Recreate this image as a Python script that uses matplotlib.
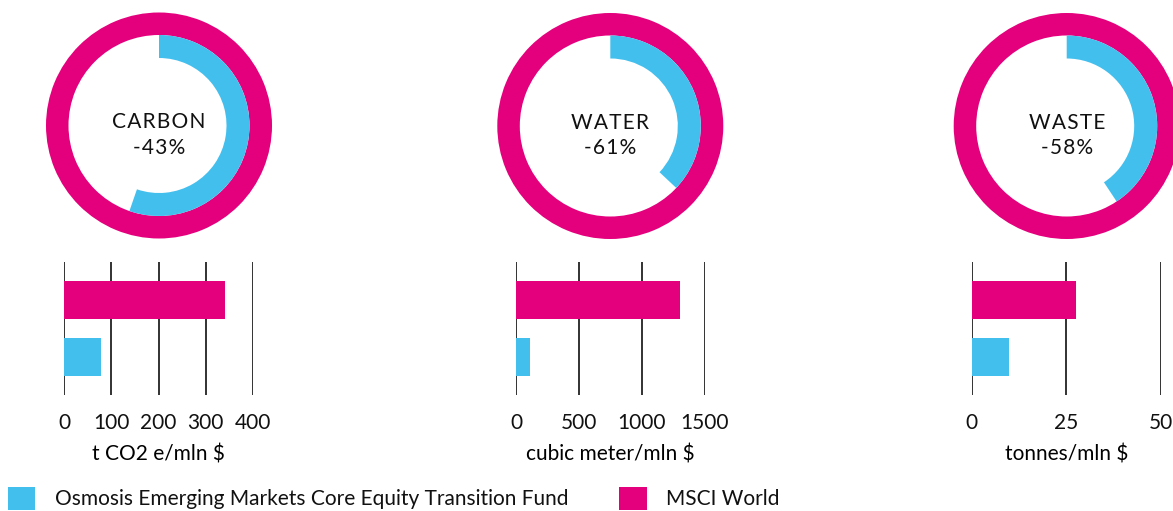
import matplotlib
matplotlib.use("Agg")
import matplotlib.pyplot as plt
from matplotlib.patches import Patch

plt.rcParams['font.family'] = ['Lato', 'DejaVu Sans']
plt.rcParams['text.color'] = '#111111'

# data
metrics = ["CARBON", "WATER", "WASTE"]
reduction = ["-43%", "-61%", "-58%"]
arc_share = [0.553, 0.37, 0.407]          # blue arc, share of full circle
units = ["t CO2 e/mln $", "cubic meter/mln $", "tonnes/mln $"]
fund = [78, 110, 9.9]
msci = [340, 1300, 27.6]
ticks = [[0, 100, 200, 300, 400], [0, 500, 1000, 1500], [0, 25, 50]]
series = ["Osmosis Emerging Markets Core Equity Transition Fund", "MSCI World"]

BLUE = '#43BFEE'
MAGENTA = '#E4007C'

W, H = 1173, 511
fig = plt.figure(figsize=(W / 100, H / 100), dpi=100)


def box(x0, y0, x1, y1):
    # pixel box (top-left origin) -> figure fraction
    return [x0 / W, 1 - y1 / H, (x1 - x0) / W, (y1 - y0) / H]


centers = [(159, 125.5), (610.3, 126), (1066.7, 126)]
bar_left = [64, 516, 971.7]
bar_w = 189

for i in range(3):
    cx, cy = centers[i]
    # donut
    ax = fig.add_axes(box(cx - 120, cy - 120, cx + 120, cy + 120))
    ax.pie([1], radius=113, colors=[MAGENTA],
           wedgeprops=dict(width=22.5, linewidth=0))
    ax.pie([arc_share[i], 1 - arc_share[i]], radius=90.5, startangle=90,
           counterclock=False, colors=[BLUE, 'none'],
           wedgeprops=dict(width=23, linewidth=0))
    ax.set_xlim(-120, 120)
    ax.set_ylim(-120, 120)
    ax.set_aspect('equal')
    ax.axis('off')
    ax.text(0, 3, '\u200a'.join(metrics[i]), ha='center', va='center',
            fontsize=15)
    ax.text(0, -22.5, '\u200a'.join(reduction[i]), ha='center', va='center',
            fontsize=15)

    # bars
    bx = fig.add_axes(box(bar_left[i], 262, bar_left[i] + bar_w, 395))
    bx.barh([0, 1], [fund[i], msci[i]], height=0.667,
            color=[BLUE, MAGENTA], linewidth=0)
    bx.set_ylim(-0.667, 1.667)
    bx.set_xlim(0, ticks[i][-1])
    bx.set_xticks(ticks[i])
    bx.set_yticks([])
    bx.set_axisbelow(True)
    bx.grid(axis='x', color='#222222', linewidth=1.3)
    for s in bx.spines.values():
        s.set_visible(False)
    bx.tick_params(axis='x', length=0, pad=13, labelsize=15,
                   labelcolor='#111111')
    bx.set_xlabel(units[i], fontsize=15, labelpad=8)

handles = [Patch(facecolor=BLUE, linewidth=0), Patch(facecolor=MAGENTA, linewidth=0)]
fig.legend(handles, series, loc='center left',
           bbox_to_anchor=(8 / W, 1 - 498.5 / H), ncol=2, frameon=False,
           fontsize=15, handlelength=1.3, handleheight=1.3,
           handletextpad=0.95, columnspacing=2.45, borderpad=0,
           borderaxespad=0)

fig.savefig('out.png', dpi=100)
